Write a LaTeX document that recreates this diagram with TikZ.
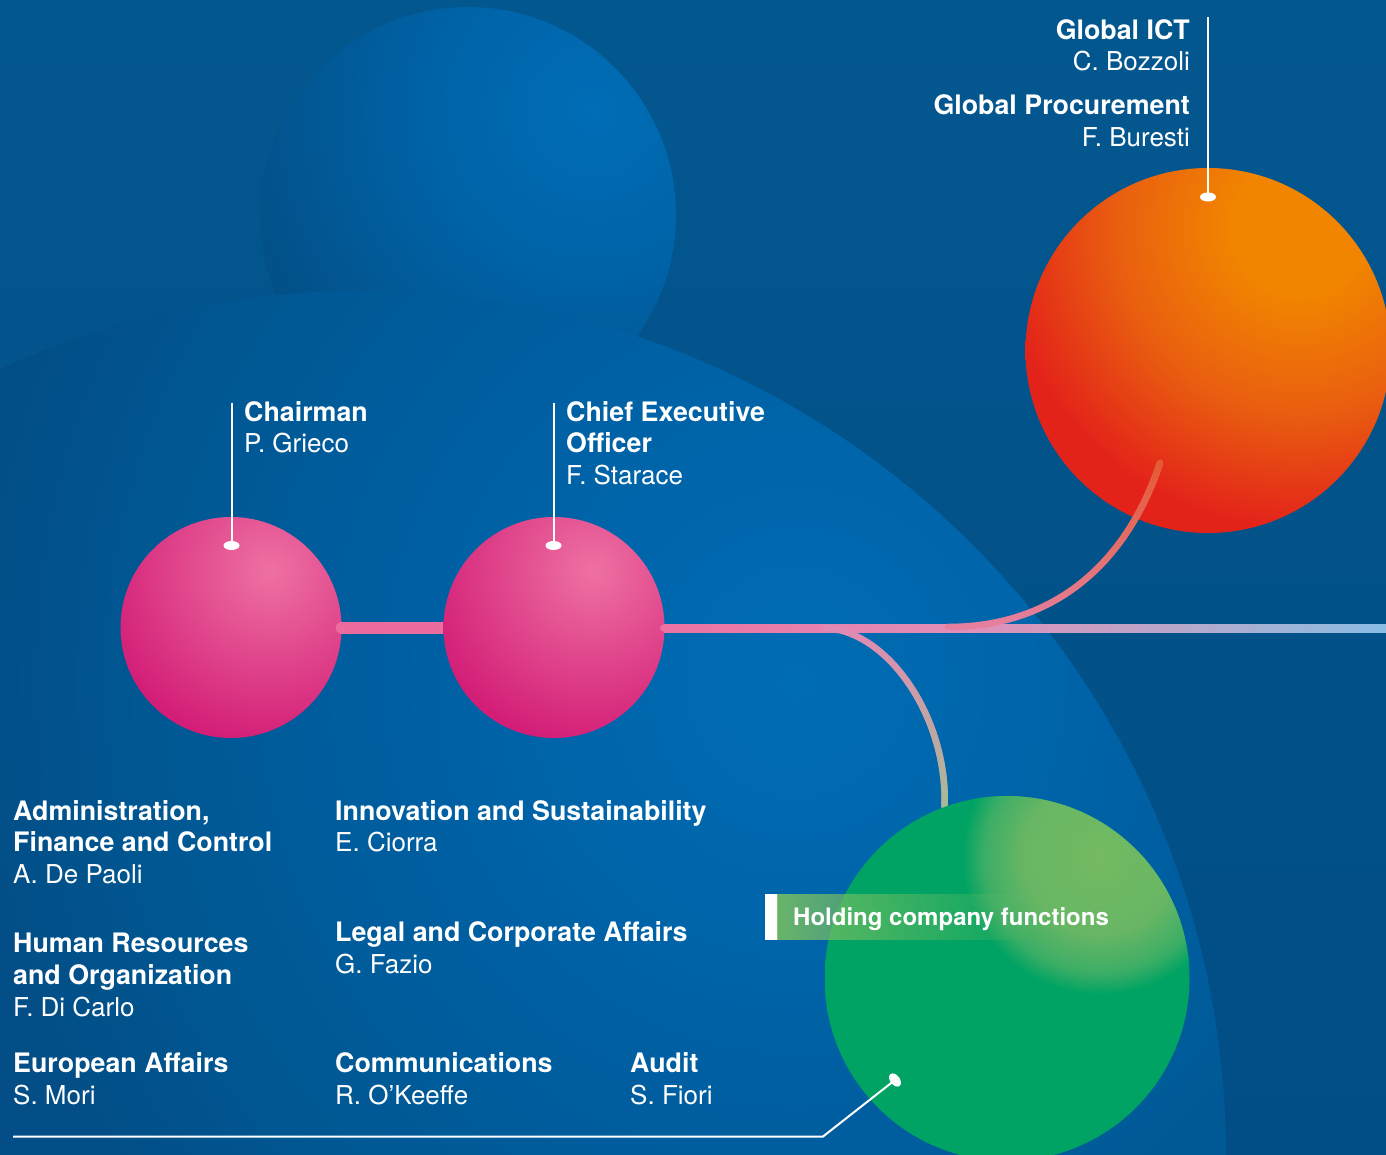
\documentclass[tikz,border=0pt]{standalone}
\usepackage{fontspec}
\setmainfont{TeX Gyre Heros}
\usetikzlibrary{calc,fadings}

\definecolor{bgtop}{HTML}{03578F}
\definecolor{bgbot}{HTML}{024D85}
\definecolor{pinkhi}{HTML}{EE71A2}
\definecolor{pinklo}{HTML}{D31D77}
\definecolor{orhi}{HTML}{F18500}
\definecolor{ormid}{HTML}{E95E10}
\definecolor{orlo}{HTML}{E3221A}
\definecolor{grhi}{HTML}{74BA62}
\definecolor{grmid}{HTML}{68B664}
\definecolor{grmid2}{HTML}{3CAE66}
\definecolor{grbase}{HTML}{00A363}
\definecolor{ubhi}{HTML}{006DB6}
\definecolor{ubmid}{HTML}{0063A8}
\definecolor{ublo}{HTML}{034E84}
\definecolor{bc0}{HTML}{006CB4}
\definecolor{bc1}{HTML}{0066AC}
\definecolor{bc2}{HTML}{005D9E}
\definecolor{bc3}{HTML}{005792}
\definecolor{bc4}{HTML}{034E87}
\definecolor{ln0}{HTML}{ED72A2}
\definecolor{ln1}{HTML}{DE92B9}
\definecolor{ln2}{HTML}{B6A9CB}
\definecolor{ln3}{HTML}{88BCE3}
\definecolor{cg1}{HTML}{E38AB3}
\definecolor{cg2}{HTML}{A6BC96}
\definecolor{co1}{HTML}{E65A30}
\definecolor{co2}{HTML}{E581A2}
\definecolor{bandgreen}{HTML}{78BF62}
\definecolor{thickpink}{HTML}{EC6C9F}

\pgfdeclareradialshading{pinkshade}{\pgfpointorigin}{color(0bp)=(pinkhi); color(22bp)=(pinklo); color(50bp)=(pinklo)}
\pgfdeclareradialshading{orshade}{\pgfpointorigin}{color(0bp)=(orhi); color(4bp)=(orhi); color(11bp)=(ormid); color(18bp)=(orlo); color(50bp)=(orlo)}
\pgfdeclareradialshading{grshade}{\pgfpointorigin}{color(0bp)=(grhi); color(14bp)=(grmid); color(21bp)=(grmid2); color(25bp)=(grbase); color(50bp)=(grbase)}
\pgfdeclareradialshading{ubshade}{\pgfpointorigin}{color(0bp)=(ubhi); color(9bp)=(ubmid); color(22bp)=(ublo); color(50bp)=(ublo)}
\pgfdeclareradialshading{bigshade}{\pgfpointorigin}{color(0bp)=(bc0); color(3.8bp)=(bc1); color(8.8bp)=(bc2); color(12.6bp)=(bc3); color(15.8bp)=(bc4); color(50bp)=(bc4)}
\pgfdeclarehorizontalshading{lineshade}{100bp}{color(0bp)=(ln0); color(25bp)=(ln0); color(47bp)=(ln1); color(61bp)=(ln2); color(75bp)=(ln3); color(100bp)=(ln3)}

\tikzfading[name=bandfade, left color=transparent!12, middle color=transparent!30, right color=transparent!100]

\begin{document}
\begin{tikzpicture}[x=1pt,y=-1pt,
  ttl/.style={anchor=base west, inner sep=0pt, text=white, font=\bfseries\fontsize{26.8}{30}\selectfont},
  nm/.style={anchor=base west, inner sep=0pt, text=white, font=\fontsize{26}{30}\selectfont},
  ptr/.style={draw=white, line width=2pt},
  orb/.style={circle, inner sep=0pt, minimum size=#1},
  curveline/.style={line width=6.5pt, line cap=round}
]
\useasboundingbox (0,0) rectangle (1386,1155);
\shade[top color=bgtop, bottom color=bgbot] (0,0) rectangle (1386,1155);

% upper blue sphere
\node[orb=416pt, path picture={\shade[shading=ubshade] ($(path picture bounding box.center)+(125,-105)$) circle (440pt);}] (upperball) at (468,215) {};

% large blue sphere
\node[orb=1732pt, path picture={\shade[shading=bigshade] ($(path picture bounding box.center)+(440,-517)$) circle (1300pt);}] (bigball) at (360,1157) {};

% orange sphere
\node[orb=365pt, path picture={\shade[shading=orshade] ($(path picture bounding box.center)+(92,-123)$) circle (420pt);}] (ictball) at (1208,350.5) {};

% pink spheres and link
\node[orb=221pt, path picture={\shade[shading=pinkshade] ($(path picture bounding box.center)+(39,-57)$) circle (200pt);}] (chair) at (231,627.5) {};
\coordinate (linkend) at (450,627.5);
\draw[line width=12pt, draw=thickpink, line cap=round] (chair.east) -- (linkend);
\node[orb=221pt, path picture={\shade[shading=pinkshade] ($(path picture bounding box.center)+(39,-57)$) circle (200pt);}] (ceo) at (554,627.5) {};

% main horizontal line
\coordinate (rend) at (1386,628);
\fill[ln0] ($(ceo.east)+(-1,0.5)$) circle (3.6pt);
\shade[shading=lineshade] ($(ceo.east)+(-1,-3.1)$) rectangle ($(rend)+(0,4.1)$);

% curve from orange sphere
\coordinate (ictend) at (1160,463);
\coordinate (merge) at (948,627);
\draw[curveline, draw=co2] (ictend) .. controls (1125,568) and (1050,627) .. (merge);
\draw[curveline, draw=co1, path fading=south] (ictend) .. controls (1125,568) and (1050,627) .. (merge);

% curve to green sphere
\coordinate (split) at (826,628);
\node[orb=365pt] (hold) at (1007,978.5) {};
\draw[curveline, draw=cg1] (split) .. controls (890,632) and (948,720) .. (hold.110);
\draw[curveline, draw=cg2, path fading=north] (split) .. controls (890,632) and (948,720) .. (hold.110);
\node[orb=365pt, path picture={\fill[grbase] (path picture bounding box.south west) rectangle (path picture bounding box.north east);
  \shade[shading=grshade] ($(path picture bounding box.center)+(93,-122)$) circle (138pt);}] (holdball) at (hold) {};

% holding label
\fill[white] (765,894) rectangle (777.5,940);
\fill[bandgreen, path fading=bandfade] (777.5,894) rectangle (1045,940);
\node[anchor=base west, inner sep=0pt, text=white, font=\bfseries\fontsize{24}{28}\selectfont] (holdlabel) at (793,925.5) {Holding company functions};

% pointers
\coordinate (globtop) at (1208,17);
\coordinate (globdot) at (1208,197);
\draw[ptr] (globtop) -- (globdot);
\fill[white] (globdot) ellipse (8pt and 4.5pt);

\coordinate (chairtop) at (231.5,402.5);
\coordinate (chairdot) at (231.5,545.5);
\draw[ptr] (chairtop) -- (chairdot);
\fill[white] (chairdot) ellipse (8pt and 4.5pt);

\coordinate (ceotop) at (553.5,402.5);
\coordinate (ceodot) at (553.5,545.5);
\draw[ptr] (ceotop) -- (ceodot);
\fill[white] (ceodot) ellipse (8pt and 4.5pt);

\coordinate (bl) at (13,1136.5);
\coordinate (bc) at (823,1136.5);
\coordinate (bd) at (895,1080);
\draw[ptr, line join=miter] (bl) -- (bc) -- (bd);
\fill[white] (bd) ellipse[x radius=7.5pt, y radius=4.8pt, rotate=-52];

% texts
\node[ttl, anchor=base east] (gict) at (1190,39.5) {Global ICT};
\node[nm, anchor=base east] (gictn) at (1190,71) {C. Bozzoli};
\node[ttl, anchor=base east] (gproc) at (1190,115) {Global Procurement};
\node[nm, anchor=base east] (gprocn) at (1190,146.7) {F. Buresti};

\node[ttl] (chairt) at (244,421.7) {Chairman};
\node[nm] (chairn) at (244,452.7) {P. Grieco};

\node[ttl] (ceot1) at (566,421.7) {Chief Executive};
\node[ttl] (ceot2) at (566,452.7) {Officer};
\node[nm] (ceon) at (566,484) {F. Starace};

\node[ttl] (afc1) at (13,820) {Administration,};
\node[ttl] (afc2) at (13,851.7) {Finance and Control};
\node[nm] (afcn) at (13,883) {A. De Paoli};

\node[ttl] (hr1) at (13,952.7) {Human Resources};
\node[ttl] (hr2) at (13,984) {and Organization};
\node[nm] (hrn) at (13,1016) {F. Di Carlo};

\node[ttl] (eu) at (13,1072.7) {European Affairs};
\node[nm] (eun) at (13,1104) {S. Mori};

\node[ttl] (ins) at (335,820) {Innovation and Sustainability};
\node[nm] (insn) at (335,851.7) {E. Ciorra};

\node[ttl] (lca) at (335,941.7) {Legal and Corporate Affairs};
\node[nm] (lcan) at (335,973.3) {G. Fazio};

\node[ttl] (com) at (335,1072.7) {Communications};
\node[nm] (comn) at (335,1104) {R. O’Keeffe};

\node[ttl] (aud) at (630,1072.7) {Audit};
\node[nm] (audn) at (630,1104) {S. Fiori};
\end{tikzpicture}
\end{document}
